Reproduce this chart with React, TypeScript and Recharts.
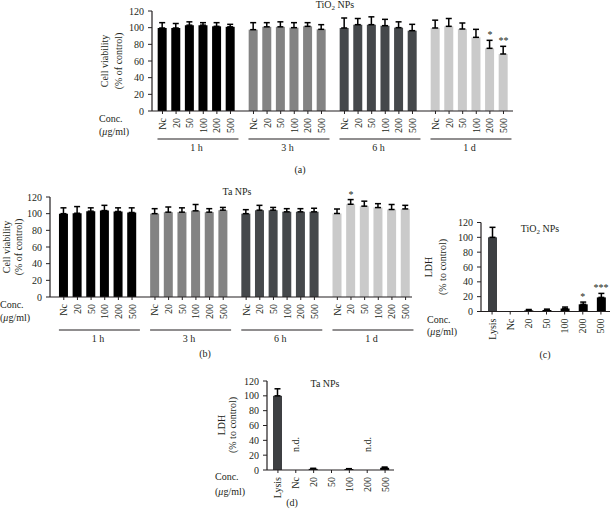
import React from 'react';
import { BarChart, Bar, XAxis, YAxis, ErrorBar, Cell, ReferenceDot } from 'recharts';

const FONT = '"Liberation Serif", "DejaVu Serif", serif';
const INK = '#231f20';

// ---------- data ----------
const concLabels = ['Nc', '20', '50', '100', '200', '500'];
const timeGroups = ['1 h', '3 h', '6 h', '1 d'];
const groupColors = ['#000000', '#838383', '#45484b', '#cacaca'];
const yTicks = [0, 20, 40, 60, 80, 100, 120];

// (a) TiO2 NPs cell viability
const tio2Viability = [
  [99.6, 99.6, 103, 103, 101.6, 101],
  [97.6, 101, 101, 100, 101.6, 98],
  [99.6, 103.6, 103.6, 102.4, 100, 96.4],
  [99.6, 101.6, 98.4, 88.4, 75.2, 68.4],
];
const tio2ViabilityErr = [
  [6.4, 5.4, 4, 3, 4.4, 3],
  [8.4, 5, 6, 6, 4.4, 5.6],
  [12, 7.4, 9.4, 7.6, 7, 7.6],
  [9.4, 9.4, 7.2, 9.6, 9.6, 9.2],
];
const tio2ViabilitySig = [
  ['', '', '', '', '', ''],
  ['', '', '', '', '', ''],
  ['', '', '', '', '', ''],
  ['', '', '', '', '*', '**'],
];

// (b) Ta NPs cell viability
const taViability = [
  [100, 100.5, 103, 103.7, 102.6, 101.4],
  [100, 101.8, 101.8, 103.4, 101.8, 104.2],
  [100, 104.2, 104.2, 102.2, 102.2, 102.2],
  [100.2, 111.3, 109, 107.3, 105, 105.7],
];
const taViabilityErr = [
  [7, 8, 4, 6.3, 4.4, 5.6],
  [6, 6.2, 5.2, 7.6, 4.2, 3.3],
  [4.8, 5.8, 3.3, 3.8, 3.8, 4.3],
  [5.4, 5.6, 6, 4.7, 6, 4.3],
];
const taViabilitySig = [
  ['', '', '', '', '', ''],
  ['', '', '', '', '', ''],
  ['', '', '', '', '', ''],
  ['', '*', '', '', '', ''],
];

// (c) TiO2 NPs LDH
const ldhLabels = ['Lysis', 'Nc', '20', '50', '100', '200', '500'];
const ldhColors = ['#3d3f42', '#000000', '#000000', '#000000', '#000000', '#000000', '#000000'];
const tio2Ldh = [100, 0, 1.5, 2, 4, 9.7, 19];
const tio2LdhErr = [13.5, 0, 1.2, 1.2, 2, 3, 5.4];
const tio2LdhSig = ['', '', '', '', '', '*', '***'];

// (d) Ta NPs LDH
const taLdh = [100, 0, 1.5, 0, 1.2, 0, 3];
const taLdhErr = [9.5, 0, 0.8, 0, 0.6, 0, 1];
const taLdhNote = ['', 'n.d.', '', '', '', 'n.d.', ''];

// ---------- helpers ----------
type Row = { pos: number; label: string; value: number; err: number[]; top: number; sig: string; color: string };

const buildRows = (vals: number[][], errs: number[][], sigs: string[][], gap: number): Row[] =>
  vals.flatMap((grp, g) =>
    grp.map((v, i) => ({
      pos: g * gap + i,
      label: concLabels[i],
      value: v,
      err: [0, errs[g][i]],
      top: v + errs[g][i],
      sig: sigs[g][i],
      color: groupColors[g],
    }))
  );

const RotTick = (props: any) => {
  const { x, y, payload, lookup } = props;
  const label = lookup ? lookup(payload.value) : payload.value;
  return (
    <text
      transform={`translate(${x},${y}) rotate(-90)`}
      textAnchor="end"
      dy="0.35em"
      fontSize={10}
      fontFamily={FONT}
      fill={INK}
    >
      {label}
    </text>
  );
};

const GroupTick = (props: any) => {
  const { x, y, index, halfLeft, halfRight } = props;
  return (
    <g>
      <line x1={x - halfLeft} x2={x + halfRight} y1={y} y2={y} stroke={INK} strokeWidth={1.2} />
      <text x={x} y={y + 11.5} textAnchor="middle" fontSize={10} fontFamily={FONT} fill={INK}>
        {timeGroups[index]}
      </text>
    </g>
  );
};

const NdContent = (props: any) => {
  const { viewBox, value } = props;
  if (!viewBox || !value) return null;
  return (
    <text
      transform={`translate(${viewBox.x},${viewBox.y - 18}) rotate(-90)`}
      textAnchor="start"
      dy="0.35em"
      fontSize={10}
      fontFamily={FONT}
      fill={INK}
    >
      {value}
    </text>
  );
};

const tickStyle = { fontSize: 10, fontFamily: FONT, fill: INK };

type VPProps = {
  rows: Row[];
  gap: number;
  domain: [number, number];
  width: number;
  height: number;
  margin: any;
  yWidth: number;
  barsH: number;
  grpH: number;
};

const ViabilityPanel = ({ rows, gap, domain, width, height, margin, yWidth, barsH, grpH }: VPProps) => {
  const lookup = (p: number) => {
    const r = rows.find((o) => Math.abs(o.pos - p) < 1e-6);
    return r ? r.label : '';
  };
  const groupCenters = timeGroups.map((_, g) => g * gap + 2.5);
  return (
    <BarChart width={width} height={height} data={rows} margin={margin} barCategoryGap={0}>
      <XAxis
        xAxisId="bars"
        dataKey="pos"
        type="number"
        domain={domain}
        allowDataOverflow
        ticks={rows.map((r) => r.pos)}
        interval={0}
        tickSize={3}
        tickMargin={4}
        height={barsH}
        axisLine={{ stroke: INK, strokeWidth: 1.2 }}
        tickLine={{ stroke: INK }}
        tick={<RotTick lookup={lookup} />}
      />
      <XAxis
        xAxisId="grp"
        dataKey="pos"
        type="number"
        domain={domain}
        allowDataOverflow
        ticks={groupCenters}
        interval={0}
        tickSize={0}
        tickMargin={0}
        height={grpH}
        axisLine={false}
        tickLine={false}
        tick={<GroupTick halfLeft={39} halfRight={42} />}
      />
      <YAxis
        type="number"
        domain={[0, 120]}
        ticks={yTicks}
        interval={0}
        width={yWidth}
        tickSize={4}
        tickMargin={4}
        axisLine={{ stroke: INK, strokeWidth: 1.2 }}
        tickLine={{ stroke: INK }}
        tick={tickStyle}
      />
      <Bar xAxisId="bars" dataKey="value" barSize={9} isAnimationActive={false}>
        {rows.map((r, i) => (
          <Cell key={i} fill={r.color} />
        ))}
        <ErrorBar dataKey="err" direction="y" width={3} strokeWidth={1.5} stroke="#000" />
      </Bar>
      {rows
        .filter((r) => r.sig)
        .map((r, i) => (
          <ReferenceDot
            key={i}
            xAxisId="bars"
            x={r.pos}
            y={r.top}
            r={0}
            ifOverflow="visible"
            label={{ value: r.sig, position: 'top', offset: 2, fontSize: 10, fontFamily: FONT, fill: INK }}
          />
        ))}
    </BarChart>
  );
};

type LPProps = {
  values: number[];
  errs: number[];
  sigs?: string[];
  notes?: string[];
  width: number;
  height: number;
  margin: any;
  yWidth: number;
  barsH: number;
};

const LdhPanel = ({ values, errs, sigs, notes, width, height, margin, yWidth, barsH }: LPProps) => {
  const rows = ldhLabels.map((l, i) => ({
    label: l,
    value: values[i],
    err: [0, errs[i]],
    top: values[i] + errs[i],
    sig: sigs ? sigs[i] : '',
    note: notes ? notes[i] : '',
    color: ldhColors[i],
  }));
  return (
    <BarChart width={width} height={height} data={rows} margin={margin}>
      <XAxis
        dataKey="label"
        type="category"
        interval={0}
        padding={{ left: 2, right: 0 }}
        tickSize={3}
        tickMargin={4}
        height={barsH}
        axisLine={{ stroke: INK, strokeWidth: 1.2 }}
        tickLine={{ stroke: INK }}
        tick={<RotTick />}
      />
      <YAxis
        type="number"
        domain={[0, 120]}
        ticks={yTicks}
        interval={0}
        width={yWidth}
        tickSize={4}
        tickMargin={4}
        axisLine={{ stroke: INK, strokeWidth: 1.2 }}
        tickLine={{ stroke: INK }}
        tick={tickStyle}
      />
      <Bar dataKey="value" barSize={9} isAnimationActive={false}>
        {rows.map((r, i) => (
          <Cell key={i} fill={r.color} />
        ))}
        <ErrorBar dataKey="err" direction="y" width={3} strokeWidth={1.5} stroke="#000" />
      </Bar>
      {rows
        .filter((r) => r.sig)
        .map((r, i) => (
          <ReferenceDot
            key={'s' + i}
            x={r.label}
            y={r.top}
            r={0}
            ifOverflow="visible"
            label={{ value: r.sig, position: 'top', offset: 2, fontSize: 10, fontFamily: FONT, fill: INK }}
          />
        ))}
      {rows
        .filter((r) => r.note)
        .map((r, i) => (
          <ReferenceDot
            key={'n' + i}
            x={r.label}
            y={r.value}
            r={0}
            ifOverflow="visible"
            label={<NdContent value={r.note} />}
          />
        ))}
    </BarChart>
  );
};

const T = (p: any) => <text fontSize={10} fontFamily={FONT} fill={INK} {...p} />;

const TiO2 = () => (
  <>
    TiO<tspan dy={2} fontSize={7}>2</tspan>
    <tspan dy={-2}> NPs</tspan>
  </>
);

const RotLabel = ({ x, y, children }: any) => (
  <text
    transform={`translate(${x},${y}) rotate(-90)`}
    textAnchor="middle"
    dy="0.35em"
    fontSize={10}
    fontFamily={FONT}
    fill={INK}
  >
    {children}
  </text>
);

const Conc = ({ x, y1, y2 }: any) => (
  <>
    <T x={x} y={y1}>Conc.</T>
    <T x={x} y={y2}>
      (<tspan fontStyle="italic">μ</tspan>g/ml)
    </T>
  </>
);

export default function App() {
  const rowsA = buildRows(tio2Viability, tio2ViabilityErr, tio2ViabilitySig, 6.69);
  const rowsB = buildRows(taViability, taViabilityErr, taViabilitySig, 6.68);
  return (
    <div style={{ position: 'absolute', left: 0, top: 0, width: 612, height: 519, background: '#fff', overflow: 'hidden' }}>
      <div style={{ position: 'absolute', left: 100, top: 0 }}>
        <ViabilityPanel
          rows={rowsA}
          gap={6.69}
          domain={[-0.77, 25.77]}
          width={420}
          height={160}
          margin={{ top: 11, right: 7, left: 0, bottom: 0 }}
          yWidth={52}
          barsH={28}
          grpH={21}
        />
      </div>
      <div style={{ position: 'absolute', left: 0, top: 186 }}>
        <ViabilityPanel
          rows={rowsB}
          gap={6.68}
          domain={[-1.01, 25.51]}
          width={420}
          height={164}
          margin={{ top: 11, right: 8, left: 0, bottom: 0 }}
          yWidth={50}
          barsH={33}
          grpH={20}
        />
      </div>
      <div style={{ position: 'absolute', left: 440, top: 212 }}>
        <LdhPanel
          values={tio2Ldh}
          errs={tio2LdhErr}
          sigs={tio2LdhSig}
          width={172}
          height={130}
          margin={{ top: 10.5, right: 2, left: 0, bottom: 0 }}
          yWidth={41}
          barsH={30.5}
        />
      </div>
      <div style={{ position: 'absolute', left: 225, top: 370 }}>
        <LdhPanel
          values={taLdh}
          errs={taLdhErr}
          notes={taLdhNote}
          width={175}
          height={132}
          margin={{ top: 11, right: 6, left: 0, bottom: 0 }}
          yWidth={42}
          barsH={32}
        />
      </div>
      <svg width={612} height={519} style={{ position: 'absolute', left: 0, top: 0, pointerEvents: 'none' }}>
        {/* (a) */}
        <T x={335} y={8} textAnchor="middle"><TiO2 /></T>
        <RotLabel x={104} y={61}>Cell viability</RotLabel>
        <RotLabel x={118} y={61}>(% of control)</RotLabel>
        <Conc x={99} y1={122} y2={135} />
        <T x={300} y={173} textAnchor="middle">(a)</T>
        {/* (b) */}
        <T x={237} y={195} textAnchor="middle">Ta NPs</T>
        <RotLabel x={6} y={247}>Cell viability</RotLabel>
        <RotLabel x={18} y={247}>(% of control)</RotLabel>
        <Conc x={0} y1={308} y2={321} />
        <T x={205} y={357} textAnchor="middle">(b)</T>
        {/* (c) */}
        <T x={540} y={232} textAnchor="middle"><TiO2 /></T>
        <RotLabel x={428} y={267}>LDH</RotLabel>
        <RotLabel x={442.5} y={267}>(% to control)</RotLabel>
        <Conc x={427} y1={323} y2={335} />
        <T x={545} y={358} textAnchor="middle">(c)</T>
        {/* (d) */}
        <T x={325} y={387} textAnchor="middle">Ta NPs</T>
        <RotLabel x={221} y={425}>LDH</RotLabel>
        <RotLabel x={232.5} y={425}>(% to control)</RotLabel>
        <Conc x={215} y1={480} y2={495} />
        <T x={292} y={506} textAnchor="middle">(d)</T>
      </svg>
    </div>
  );
}
